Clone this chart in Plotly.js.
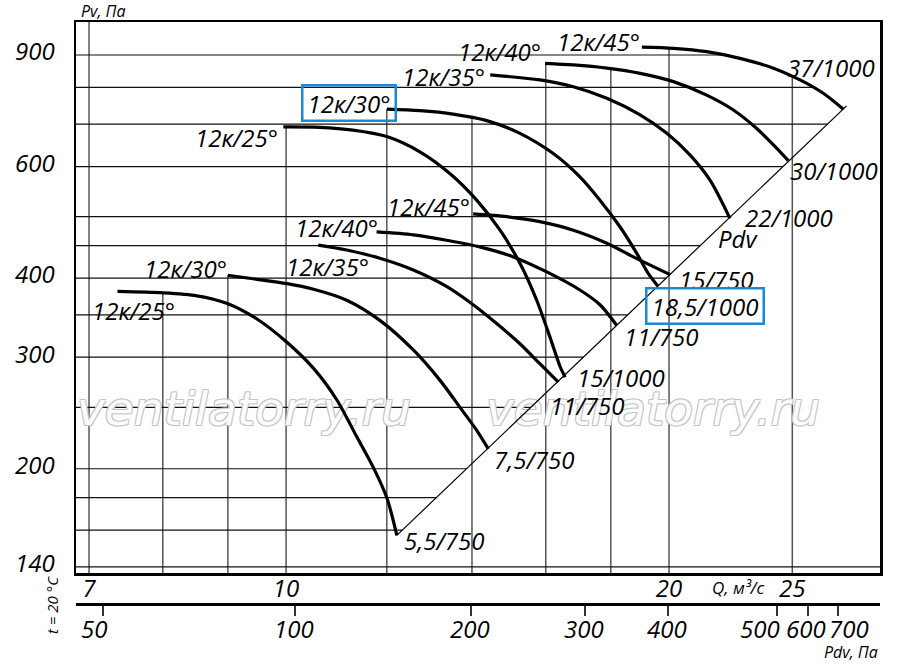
<!DOCTYPE html>
<html>
<head>
<meta charset="utf-8">
<script src="https://cdn.plot.ly/plotly-3.0.1.min.js"></script>
<style>
  html, body { margin: 0; padding: 0; background: #fff; }
  #chart { width: 900px; height: 669px; }
</style>
</head>
<body>
<div id="chart"></div>
<script>
// Q, m3/s and Pv, Pa (750 rpm group, then 1000 rpm group)
var qL25 = [7.37, 8.01, 8.51, 8.98, 9.48, 10.01, 10.51, 10.96, 11.36, 11.71, 12.0, 12.22];
var pvL25 = [381, 379, 375, 365, 345, 317, 288, 257, 225, 201, 180, 157];
var qL30 = [9.0, 9.42, 10.02, 10.51, 11.16, 11.85, 12.59, 13.21, 13.70, 14.12, 14.42];
var pvL30 = [404, 399, 392, 384, 369, 343, 308, 276, 250, 230, 215];
var qL35 = [10.60, 11.16, 11.85, 12.59, 13.37, 14.03, 14.64, 15.27, 15.83, 16.37];
var pvL35 = [451, 443, 430, 412, 388, 363, 339, 315, 293, 274];
var qL40 = [11.78, 12.59, 13.37, 14.20, 15.09, 16.03, 17.02, 17.65, 18.19];
var pvL40 = [473, 468, 459, 448, 432, 409, 383, 363, 337];
var qL45 = [14.03, 14.91, 15.83, 16.82, 17.87, 18.75, 19.44, 20.04];
var pvL45 = [505, 500, 491, 476, 454, 432, 417, 405];

var qU25 = [9.95, 10.63, 11.29, 12.0, 12.74, 13.45, 14.12, 14.73, 15.27, 15.74, 16.12, 16.42, 16.57];
var pvU25 = [693, 692, 685, 669, 633, 585, 531, 476, 422, 369, 323, 290, 279];
var qU30 = [12.0, 12.74, 13.53, 14.38, 15.27, 16.22, 17.02, 17.65, 18.30, 18.86, 19.26, 19.61];
var pvU30 = [739, 735, 726, 709, 677, 629, 578, 531, 482, 438, 407, 388];
var qU35 = [14.47, 15.83, 16.82, 17.87, 18.98, 19.92, 20.77, 21.54, 22.33];
var pvU35 = [837, 822, 802, 769, 724, 677, 626, 571, 497];
var qU40 = [15.98, 16.82, 17.87, 18.98, 20.16, 21.41, 22.47, 23.44, 24.16, 24.82];
var pvU40 = [873, 868, 858, 842, 817, 778, 737, 689, 649, 613];
var qU45 = [19.04, 20.16, 21.41, 22.74, 24.16, 25.35, 26.44, 27.42];
var pvU45 = [926, 922, 911, 889, 858, 822, 783, 739];

// Pdv line (ends of the curves lie on it)
var qPdv = [12.22, 27.58];
var pvPdv = [157, 748];

var startText = ['12к/25°', '12к/30°', '12к/35°', '12к/40°', '12к/45°',
                 '12к/25°', '12к/30°', '12к/35°', '12к/40°', '12к/45°'];
var endText = ['5,5/750', '7,5/750', '11/750', '11/750', '15/750',
               '15/1000', '18,5/1000', '22/1000', '30/1000', '37/1000'];

var qTicks = [7, 10, 20, 25];
var pvTicks = [140, 200, 300, 400, 600, 900];
var qGrid = [7, 8, 9, 10, 12, 14, 16, 18, 20, 25];
var pvGrid = [140, 160, 180, 200, 250, 300, 350, 400, 450, 500, 600, 700, 800, 900];
var pdvTickText = ['50', '100', '200', '300', '400', '500', '600', '700'];
var pdvTickAtQ = [7.18, 10.16, 13.98, 17.18, 19.97, 24.32, 25.72, 27.16];

var curveQ = [qL25, qL30, qL35, qL40, qL45, qU25, qU30, qU35, qU40, qU45];
var curvePv = [pvL25, pvL30, pvL35, pvL40, pvL45, pvU25, pvU30, pvU35, pvU40, pvU45];

var qRange = [6.837, 29.30];
var pvRange = [136.9, 1014.7];

// label offsets in px (x, y) from curve start / end, same order as the curves
var startShift = [[60, -19], [1, 7], [53, -21], [3, 4], [-1, 7], [-3, -11], [10, 6], [-3, -2], [-2, 12], [0, 6]];
var endShift = [[5, -5], [4, -11], [-10, -23], [5, -11], [7, -5], [10, 0], [-13, -20], [13, 1], [0, -10], [-58, 42]];
var pdvLabelShift = [-9, -1, -1, -1, -1, -17, -2, 11];
var boxedStart = 6, boxedEnd = 6;

var W = 900, H = 669;
var M = {l: 76, r: 20, t: 22, b: 65};
var plotBottom = 573;
function px(x) { return (x - M.l) / (W - M.l - M.r); }
function py(y) { return (H - M.b - y) / (H - M.t - M.b); }
var lq0 = Math.log10(qRange[0]), lq1 = Math.log10(qRange[1]);
var lp0 = Math.log10(pvRange[0]), lp1 = Math.log10(pvRange[1]);
function qAtPx(x) { return Math.pow(10, lq0 + (x - M.l) / (W - M.l - M.r) * (lq1 - lq0)); }
function pvAtPx(y) { return Math.pow(10, lp1 - (y - M.t) / (plotBottom - M.t) * (lp1 - lp0)); }

// log-log interpolation along a polyline
function interp(a, b, v) {
  for (var i = 0; i < a.length - 1; i++) {
    var lo = Math.min(a[i], a[i + 1]), hi = Math.max(a[i], a[i + 1]);
    if (v >= lo && v <= hi) {
      var t = Math.log(v / a[i]) / Math.log(a[i + 1] / a[i]);
      return Math.exp(Math.log(b[i]) + t * Math.log(b[i + 1] / b[i]));
    }
  }
  return null;
}

// grid: verticals stop at the highest curve, horizontals stop at Pdv line / outer curve
var vx = [], vy = [];
qGrid.forEach(function (g) {
  var top = null;
  for (var k = 0; k < curveQ.length; k++) {
    var v = interp(curveQ[k], curvePv[k], g);
    if (v !== null && (top === null || v > top)) top = v;
  }
  if (top === null) top = pvRange[1];
  vx.push(g, g, null);
  vy.push(pvRange[0], top, null);
});
var hx = [], hy = [];
pvGrid.forEach(function (g) {
  var right = qRange[1];
  var d = interp(pvPdv, qPdv, g);
  if (d !== null) right = d;
  var c = interp(pvU45, qU45, g);
  if (c !== null && c < right) right = c;
  hx.push(qRange[0], right, null);
  hy.push(g, g, null);
});

var wmFont = {family: '"DejaVu Sans", sans-serif', size: 47, color: '#fcfcfc', style: 'italic',
  shadow: '1px 1px 0 #c4c4c4, -1px -1px 0 #c4c4c4, 1px -1px 0 #c4c4c4, -1px 1px 0 #c4c4c4'};

var data = [
  {x: vx, y: vy, mode: 'lines', line: {color: '#555', width: 1.5}, hoverinfo: 'skip', connectgaps: false},
  {x: hx, y: hy, mode: 'lines', line: {color: '#111', width: 1.2}, hoverinfo: 'skip', connectgaps: false},
  {x: [qAtPx(244), qAtPx(653)], y: [pvAtPx(413), pvAtPx(413)], mode: 'text',
   text: ['ventilatorry.ru', 'ventilatorry.ru'], textposition: 'middle center',
   textfont: wmFont, hoverinfo: 'skip'},
  {x: qPdv, y: pvPdv, xaxis: 'x2', mode: 'lines', line: {color: '#000', width: 1.2}, hoverinfo: 'skip'}
];
for (var k = 0; k < curveQ.length; k++) {
  data.push({
    x: curveQ[k], y: curvePv[k], mode: 'lines',
    line: {color: '#000', width: 3.2, shape: 'spline', smoothing: 0.8},
    hoverinfo: 'skip'
  });
}

var fam = '"Open Sans", "DejaVu Sans", sans-serif';
function f(size) { return {family: fam, size: size, color: '#000', style: 'italic'}; }
var pad = '\u2009';

var ann = [];
for (var k = 0; k < curveQ.length; k++) {
  var n = curveQ[k].length;
  var s = {
    x: Math.log10(curveQ[k][0]), y: Math.log10(curvePv[k][0]), xref: 'x', yref: 'y',
    text: startText[k], showarrow: false, xanchor: 'right', yanchor: 'middle',
    xshift: startShift[k][0], yshift: startShift[k][1], font: f(24)
  };
  var e = {
    x: Math.log10(curveQ[k][n - 1]), y: Math.log10(curvePv[k][n - 1]), xref: 'x', yref: 'y',
    text: endText[k], showarrow: false, xanchor: 'left', yanchor: 'middle',
    xshift: endShift[k][0], yshift: endShift[k][1], font: f(24)
  };
  if (k === boxedStart) {
    s.text = pad + s.text + pad;
    s.bordercolor = '#1a8ad4'; s.borderwidth = 2.5; s.borderpad = 0;
  }
  if (k === boxedEnd) {
    e.text = pad + e.text + pad;
    e.bordercolor = '#1a8ad4'; e.borderwidth = 2.5; e.borderpad = 0;
  }
  ann.push(s, e);
}

// Pdv scale labels
pdvTickText.forEach(function (t, i) {
  ann.push({x: Math.log10(pdvTickAtQ[i]), xref: 'x2', y: py(628), yref: 'paper', text: t,
    showarrow: false, xanchor: 'center', yanchor: 'middle', xshift: pdvLabelShift[i], font: f(24)});
});

ann.push(
  {xref: 'paper', yref: 'paper', x: px(79), y: py(11), text: 'Pv, Па', showarrow: false,
   xanchor: 'left', yanchor: 'middle', font: f(16)},
  {xref: 'paper', yref: 'paper', x: px(738), y: py(587), text: 'Q, м³/с', showarrow: false,
   xanchor: 'center', yanchor: 'middle', font: f(17)},
  {xref: 'paper', yref: 'paper', x: px(880), y: py(652), text: 'Pdv, Па', showarrow: false,
   xanchor: 'right', yanchor: 'middle', font: f(16)},
  {xref: 'paper', yref: 'paper', x: px(52), y: py(605), text: 't = 20 °С', showarrow: false,
   textangle: -90, xanchor: 'center', yanchor: 'middle', font: f(15)},
  {xref: 'paper', yref: 'paper', x: px(716), y: py(238), text: 'Pdv', showarrow: false,
   xanchor: 'left', yanchor: 'middle', font: f(24)}
);

var layout = {
  width: W, height: H,
  margin: M,
  paper_bgcolor: '#fff', plot_bgcolor: '#fff',
  showlegend: false,
  xaxis: {
    type: 'log', range: [lq0, lq1],
    tickvals: qTicks, ticktext: qTicks.map(String), ticks: '', ticklabelstandoff: -7,
    showgrid: false, zeroline: false, showline: true, mirror: true,
    linecolor: '#000', linewidth: 2.5, tickfont: f(24)
  },
  xaxis2: {
    type: 'log', range: [lq0, lq1],
    overlaying: 'x', anchor: 'free', position: 0, side: 'bottom',
    tickvals: pdvTickAtQ, showticklabels: false,
    ticks: 'outside', ticklen: 10, tickwidth: 1.5, tickcolor: '#333',
    showgrid: false, zeroline: false, showline: true,
    linecolor: '#000', linewidth: 2.5
  },
  yaxis: {
    type: 'log', range: [lp0, lp1],
    domain: [py(plotBottom), 1],
    tickvals: pvTicks, ticktext: pvTicks.map(String), ticks: '',
    ticklabelstandoff: 14, ticklabelshift: -3,
    showgrid: false, zeroline: false, showline: true, mirror: true,
    linecolor: '#000', linewidth: 2.5, tickfont: f(24)
  },
  annotations: ann
};

Plotly.newPlot('chart', data, layout, {staticPlot: true, displayModeBar: false});
</script>
</body>
</html>
